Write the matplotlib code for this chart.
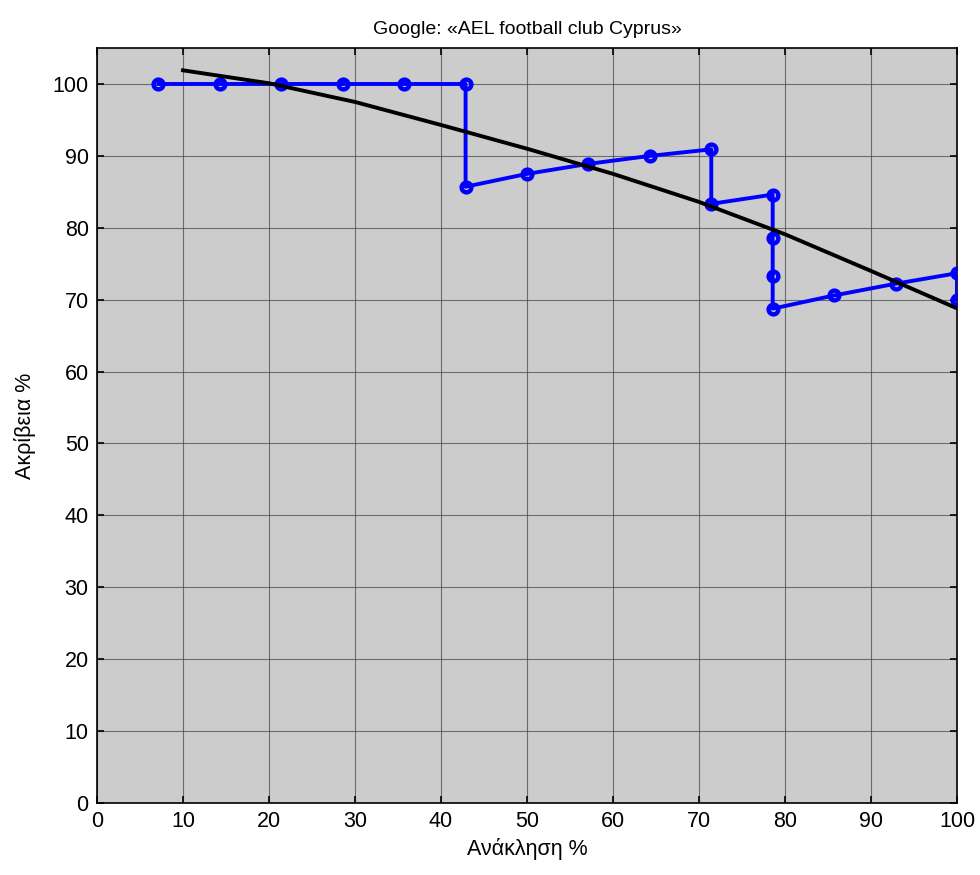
import numpy as np
import matplotlib.pyplot as plt

plt.rcParams['font.family'] = ['Liberation Sans', 'DejaVu Sans']

# ανάκληση / ακρίβεια (σημεία της καμπύλης)
recall = [7.14, 14.29, 21.43, 28.57, 35.71, 42.86, 42.86, 50.0, 57.14, 64.29,
          71.43, 71.43, 78.57, 78.57, 78.57, 78.57, 85.71, 92.86, 100.0, 100.0]
precision = [100, 100, 100, 100, 100, 100, 85.71, 87.5, 88.89, 90.0,
             90.91, 83.33, 84.62, 78.57, 73.33, 68.75, 70.59, 72.22, 73.68, 70.0]

# προσαρμοσμένη καμπύλη
fit_x = [10, 20, 30, 40, 50, 60, 70, 80, 90, 100]
fit_y = [101.9, 100.1, 97.5, 94.3, 91.0, 87.5, 83.6, 79.1, 74.0, 68.8]

xticks = list(range(0, 101, 10))
yticks = list(range(0, 101, 10))

fig = plt.figure(figsize=(9.8, 8.75), dpi=100)
ax = fig.add_axes([0.099, 0.0823, 0.8775, 0.8628])
ax.set_facecolor('#cccccc')

ax.plot(recall, precision, '-o', color='#0000ff', lw=2.8, ms=7,
        mfc='none', mew=3.2, zorder=3)
ax.plot(fit_x, fit_y, '-', color='black', lw=2.8, zorder=4)

ax.set_xlim(0, 100)
ax.set_ylim(0, 105)
ax.set_xticks(xticks)
ax.set_yticks(yticks)
ax.grid(True, color='#444444', lw=0.8, alpha=0.7)
ax.set_axisbelow(True)
ax.tick_params(direction='in', top=True, right=True, labelsize=15.5, length=5,
               width=1.2, pad=6)
for s in ax.spines.values():
    s.set_linewidth(1.2)

ax.set_title('Google: «AEL football club Cyprus»', fontsize=14, pad=10)
ax.set_xlabel('Ανάκληση %', fontsize=15.5, labelpad=4)
ax.set_ylabel('Ακρίβεια %', fontsize=15.5, labelpad=12)

fig.savefig('out.png', dpi=100)
